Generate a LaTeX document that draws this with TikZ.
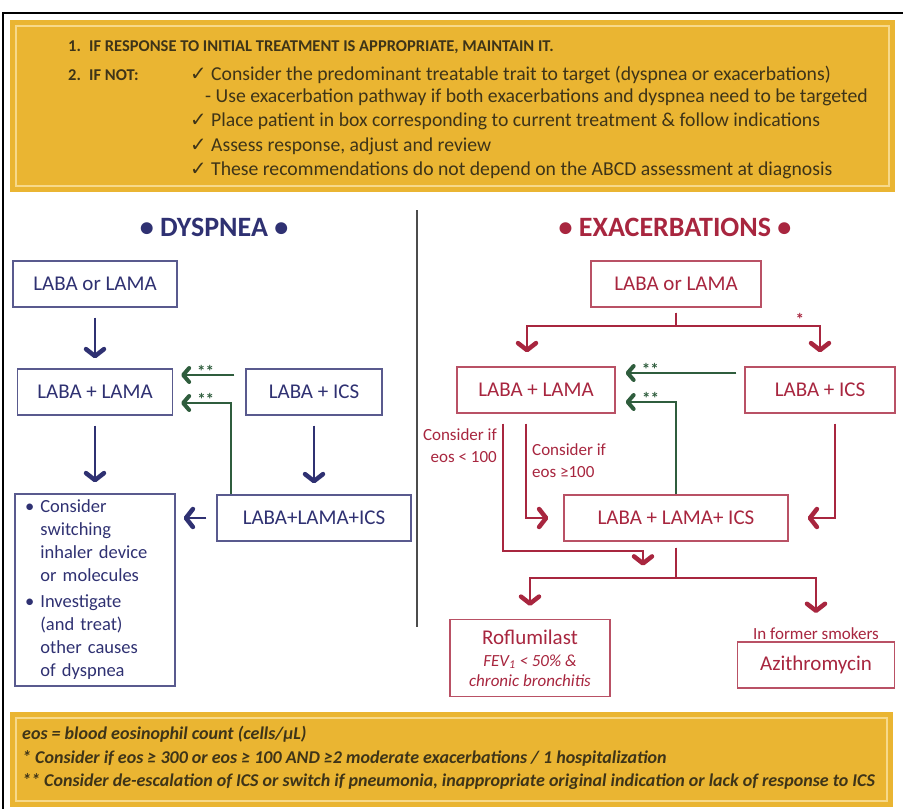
\documentclass[tikz,border=0pt]{standalone}
\usepackage{fontspec}
\setmainfont{Carlito}
\newfontfamily\symfont{DejaVu Sans}
\usetikzlibrary{arrows.meta,positioning}
\definecolor{gold}{HTML}{EAB532}
\definecolor{palegold}{HTML}{F7D98A}
\definecolor{olivetext}{HTML}{3E3418}
\definecolor{navy}{HTML}{2F3172}
\definecolor{exred}{HTML}{A8263F}
\definecolor{dkgreen}{HTML}{2F5D3D}
\newcommand{\chkmark}{{\symfont ✓}}
\newcommand{\smit}{\itshape\fontsize{17}{19}\selectfont}

\begin{document}
\begin{tikzpicture}[x=1pt,y=-1pt,
  every node/.style={inner sep=2pt, font=\fontsize{21}{25}\selectfont},
  yeltext/.style={anchor=west, text=olivetext, font=\fontsize{19.7}{22}\selectfont},
  foottext/.style={anchor=west, text=olivetext, font=\bfseries\itshape\fontsize{18}{20}\selectfont},
  dbox/.style={draw=navy!80, line width=1.3pt, text=navy, minimum height=46pt},
  ebox/.style={draw=exred!80, line width=1.3pt, text=exred, minimum height=46pt},
  smalltext/.style={font=\fontsize{17}{22}\selectfont, text=exred},
  chev/.style={-{Straight Barb[length=7pt,width=18pt,line width=4.5pt,round]}, line width=2pt},
  darr/.style={chev, navy},
  earr/.style={chev, exred},
  garr/.style={-{Straight Barb[length=6pt,width=14pt,line width=4pt,round]}, line width=2pt, dkgreen},
  stars/.style={font=\bfseries\fontsize{17}{17}\selectfont, text=dkgreen, inner sep=0pt, above=-3pt}
]
\useasboundingbox (0,0) rectangle (903,809);
\fill[white] (0,0) rectangle (903,809);
\draw[line width=2pt] (3,809) -- (3,13) -- (903,13);
\fill[gold] (10,20) rectangle (895,192);
\draw[palegold, line width=2pt] (16,26) rectangle (889,186);
\fill[gold] (10,712) rectangle (893,807);
\draw[palegold, line width=2pt] (16,718) rectangle (887,801);
\draw[black!70, line width=2pt] (417,210) -- (417,627);

% top panel
\node[yeltext, font=\bfseries\fontsize{16.5}{20}\selectfont] (tone) at (66,47) {1.\enspace IF RESPONSE TO INITIAL TREATMENT IS APPROPRIATE, MAINTAIN IT.};
\node[yeltext, font=\bfseries\fontsize{16.5}{20}\selectfont] (ttwo) at (66,75) {2.\enspace IF NOT:};
\node[yeltext] (tcons) at (188,75) {\chkmark\ Consider the predominant treatable trait to target (dyspnea or exacerbations)};
\node[yeltext] (tuse) at (203,97) {- Use exacerbation pathway if both exacerbations and dyspnea need to be targeted};
\node[yeltext] (tplace) at (188,121) {\chkmark\ Place patient in box corresponding to current treatment \& follow indications};
\node[yeltext] (tassess) at (188,146) {\chkmark\ Assess response, adjust and review};
\node[yeltext] (tabcd) at (188,170) {\chkmark\ These recommendations do not depend on the ABCD assessment at diagnosis};

% dyspnea
\node[font=\bfseries\fontsize{28}{32}\selectfont, text=navy] (dys) at (214,227) {\textbullet\ DYSPNEA \textbullet};
\node[dbox, minimum width=164pt] (dlaor) at (95,284) {LABA or LAMA};
\node[dbox, minimum width=155pt] (dlama) at (95,392) {LABA + LAMA};
\node[dbox, minimum width=136pt] (dics) at (314,392) {LABA + ICS};
\node[dbox, minimum width=194pt] (dtriple) at (314,518) {LABA+LAMA+ICS};
\node[dbox, minimum height=192pt, text width=140pt, inner xsep=10pt, align=left, font=\fontsize{18.5}{23}\selectfont] (dnext) at (95,590) {\textbullet\ Consider\\ \phantom{\textbullet\ }switching\\ \phantom{\textbullet\ }inhaler device\\ \phantom{\textbullet\ }or molecules\\[3pt] \textbullet\ Investigate\\ \phantom{\textbullet\ }(and treat)\\ \phantom{\textbullet\ }other causes\\ \phantom{\textbullet\ }of dyspnea};

\draw[darr, shorten <=10pt, shorten >=10pt] (dlaor) -- (dlama);
\draw[darr, shorten <=10pt, shorten >=11pt] (dlama) -- (dnext);
\draw[darr, shorten <=10pt, shorten >=11pt] (dics) -- (dtriple);
\draw[darr, shorten <=10pt, shorten >=8pt] (dtriple.west) -- (dtriple.west -| dnext.east);
\draw[garr, shorten <=11pt, shorten >=8pt] ([yshift=17pt]dics.west) -- ([yshift=17pt]dics.west -| dlama.east) node[stars, pos=0.55] {**};
\draw[garr, shorten >=8pt] ([xshift=15pt]dtriple.north west) |- ([yshift=-11pt]dlama.east) node[stars, pos=0.72] {**};

% exacerbations
\node[font=\bfseries\fontsize{28}{32}\selectfont, text=exred] (exa) at (675,227) {\textbullet\ EXACERBATIONS \textbullet};
\node[ebox, minimum width=170pt] (elaor) at (676,284) {LABA or LAMA};
\node[ebox, minimum width=158pt] (elama) at (536,390) {LABA + LAMA};
\node[ebox, minimum width=150pt] (eics) at (820,390) {LABA + ICS};
\node[ebox, minimum width=224pt] (etriple) at (676,518) {LABA + LAMA+ ICS};
\node[ebox, minimum width=160pt, minimum height=77pt, align=center] (roflu) at (530,658) {Roflumilast\\[-3pt] {\smit FEV\textsubscript{1} < 50\% \&}\\[-5pt] {\smit chronic bronchitis}};
\node[ebox, minimum width=157pt] (azith) at (816,665) {Azithromycin};
\node[smalltext, above=0pt of azith] (smoke) {In former smokers};
\node[smalltext, align=right, anchor=east] (elow) at (499,446) {Consider if\\eos < 100};
\node[smalltext, align=left, anchor=west] (ehigh) at (530,461) {Consider if\\eos ≥100};

\draw[earr, shorten <=5pt, shorten >=14pt] (elaor.south) -- ++(0,18) -| ([xshift=-9pt]elama.north);
\draw[earr, shorten <=5pt, shorten >=14pt] (elaor.south) -- ++(0,18) -| (eics.north) node[pos=0.43, above=-3pt, text=exred, font=\bfseries\fontsize{17}{17}\selectfont] (ast) {*};
\draw[earr, shorten <=10pt] ([xshift=-33pt]elama.south) |- ([shift={(-33pt,-9pt)}]etriple.south) -- ++(0,15);
\draw[earr, shorten <=10pt, shorten >=15pt] ([xshift=-10pt]elama.south) |- (etriple.west);
\draw[earr, shorten <=10pt, shorten >=19pt] ([xshift=15pt]eics.south) |- (etriple.east);
\draw[earr, shorten <=6pt, shorten >=13pt] (etriple.south) -- ++(0,36) -| (roflu.north);
\draw[earr, shorten <=6pt, shorten >=12pt] (etriple.south) -- ++(0,36) -| (smoke.north);
\draw[garr, shorten <=8pt, shorten >=10pt] ([yshift=17pt]eics.west) -- ([yshift=17pt]eics.west -| elama.east) node[stars, pos=0.73] {**};
\draw[garr, shorten >=10pt] (etriple.north) |- ([yshift=-12pt]elama.east) node[stars, pos=0.71] {**};

% footnotes
\node[foottext] (feos) at (20,734) {eos = blood eosinophil count (cells/µL)};
\node[foottext] (fone) at (20,758) {* Consider if eos ≥ 300 or eos ≥ 100 AND ≥2 moderate exacerbations / 1 hospitalization};
\node[foottext] (ftwo) at (20,782) {** Consider de-escalation of ICS or switch if pneumonia, inappropriate original indication or lack of response to ICS};
\end{tikzpicture}
\end{document}
